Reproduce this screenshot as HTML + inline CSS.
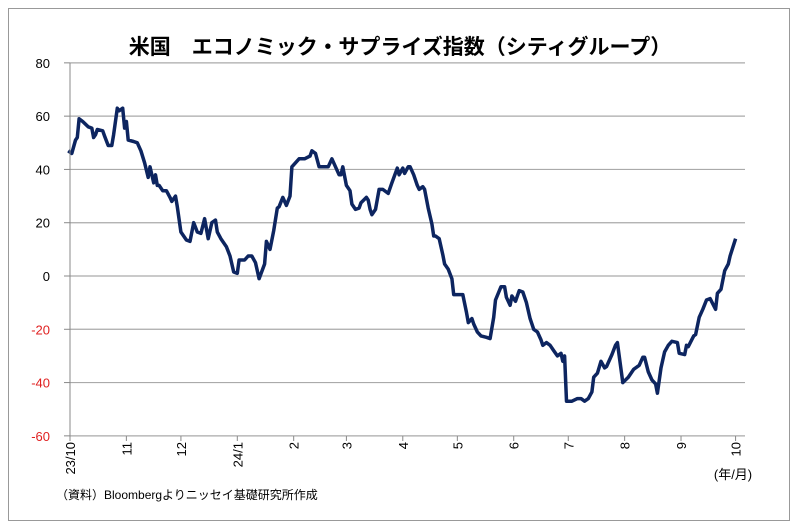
<!DOCTYPE html>
<html><head><meta charset="utf-8">
<style>
html,body{margin:0;padding:0;background:#fff;}
svg{display:block;font-family:"Liberation Sans","Noto Sans CJK JP",sans-serif;}
</style></head>
<body>
<svg width="798" height="531" viewBox="0 0 798 531">
<rect x="8.5" y="8.5" width="781" height="512" fill="#fff" stroke="#999" stroke-width="1"/>
<text x="400" y="54" text-anchor="middle" font-size="21" font-weight="bold" fill="#000">米国　エコノミック・サプライズ指数（シティグループ）</text>
<g id="grid"></g>
<g id="yticks"></g>
<g id="xticks"></g>
<path id="line" fill="none" stroke="#0d2560" stroke-width="3.5" stroke-linejoin="round"/>
<line x1="70" y1="63" x2="70" y2="436" stroke="#888"/>
<text x="733" y="479" text-anchor="middle" font-size="13" fill="#000">(年/月)</text>
<text x="56" y="499" font-size="12" fill="#000">（資料）Bloombergよりニッセイ基礎研究所作成</text>
</svg>
<script>
const days=[-1,1,3,4,5,7,10,12,13,14,15,18,19,21,23,24,26,27,29,30,31,32,35,37,39,41,43,44,46,47,48,49,51,53,55,56,58,59,61,64,66,68,70,72,74,76,78,80,81,83,86,88,90,92,93,96,98,100,102,104,107,108,110,112,114,115,117,119,121,122,124,126,129,132,133,135,137,139,142,144,145,148,149,150,152,154,155,157,159,160,163,164,165,166,168,170,172,175,177,180,181,183,184,186,187,189,191,192,194,195,197,199,200,201,203,205,206,208,210,211,214,216,218,219,221,222,224,226,229,231,233,234,237,239,240,242,243,245,247,249,251,253,255,257,259,260,262,264,266,268,270,271,272,273,276,279,281,283,285,287,288,290,292,294,295,298,300,301,304,307,310,313,315,316,318,320,322,323,325,327,329,331,334,335,338,339,340,343,344,346,348,350,352,355,356,358,360,362,363,366];
const values=[47,46,51,52,59,58,56,55.5,52,53,55,54.5,52.5,49,49,53,63,62,63,55.5,58,51,50.5,50,47,42.5,37,41,35,38,34,34,32,32,29.5,28,30,26,16.5,13.5,13,20,16.5,16,21.5,14,20,21,16.5,14,11,7.5,1.5,1,6,6,7.5,7.5,5,-1,4.5,13,10,17,25.5,26,29.5,26.5,30,41,42.5,44,44,45,47,46,41,41,41,44,42.5,38,38,41,34,32,27,25,25.5,27.5,29.5,28.5,25,23,25,32.5,32.5,31,35,40.5,38,40.5,38.5,41,41,38,34,32.5,33.5,32.5,25.5,19.5,15,15,14,8,4.5,2.6,-1,-7,-7,-7,-13.5,-17.5,-16,-18,-21,-22.5,-23,-23.5,-15.5,-9,-4,-4,-8,-11,-7.5,-9.5,-5.5,-6,-10,-16,-20,-21,-24,-26,-25,-26,-28,-30,-29,-32,-30,-47,-47,-46,-46,-47,-46,-43.5,-38,-36.5,-32,-34.5,-34,-29.5,-26,-25,-40,-38,-35,-33.5,-30.5,-30.5,-36,-39,-40.5,-44,-34.5,-28.5,-26,-24.5,-25,-29,-29.5,-26,-26.5,-22.5,-22,-15.5,-12.5,-9,-8.5,-12.5,-6.5,-5,2,4.5,7.5,14];
const yTicks=[80,60,40,20,0,-20,-40,-60];
const xTickLabels=["23/10","11","12","24/1","2","3","4","5","6","7","8","9","10"];
const xTickDays=[0,31,61,92,123,152,183,213,244,274,305,336,366];
const NS="http://www.w3.org/2000/svg";
const x=d=>70+d*1.8185;
const y=v=>276-v*(373/140);
const grid=document.getElementById('grid'),yt=document.getElementById('yticks'),xt=document.getElementById('xticks');
yTicks.forEach(v=>{
 const l=document.createElementNS(NS,'line');
 
 
 l.setAttribute('x1',70);l.setAttribute('x2',745);l.setAttribute('y1',y(v));l.setAttribute('y2',y(v));
 l.setAttribute('stroke','#aaa');l.setAttribute('stroke-width','1.2');grid.appendChild(l);
 const tk=document.createElementNS(NS,'line');
 
 
 tk.setAttribute('x1',64);tk.setAttribute('x2',70);tk.setAttribute('y1',y(v));tk.setAttribute('y2',y(v));
 tk.setAttribute('stroke','#888');grid.appendChild(tk);
 const t=document.createElementNS(NS,'text');
 
 
 t.setAttribute('x',50);t.setAttribute('y',y(v)+5);t.setAttribute('text-anchor','end');t.setAttribute('font-size','13');
 t.setAttribute('fill',v<0?'#e02020':'#000');
 t.textContent=v;yt.appendChild(t);
});
xTickLabels.forEach((lab,i)=>{
 const px=x(xTickDays[i]);
 const tk=document.createElementNS(NS,'line');
 
 
 tk.setAttribute('x1',px);tk.setAttribute('x2',px);tk.setAttribute('y1',436);tk.setAttribute('y2',441);tk.setAttribute('stroke','#888');xt.appendChild(tk);
 const t=document.createElementNS(NS,'text');
 
 
 t.setAttribute('transform','translate('+(px+5)+',442) rotate(-90)');
 t.setAttribute('text-anchor','end');t.setAttribute('font-size','13');
 t.textContent=lab;xt.appendChild(t);
});
document.getElementById('line').setAttribute('d',days.map((d,i)=>(i?'L':'M')+x(d).toFixed(1)+','+y(values[i]).toFixed(1)).join(''));
</script>
</body></html>
